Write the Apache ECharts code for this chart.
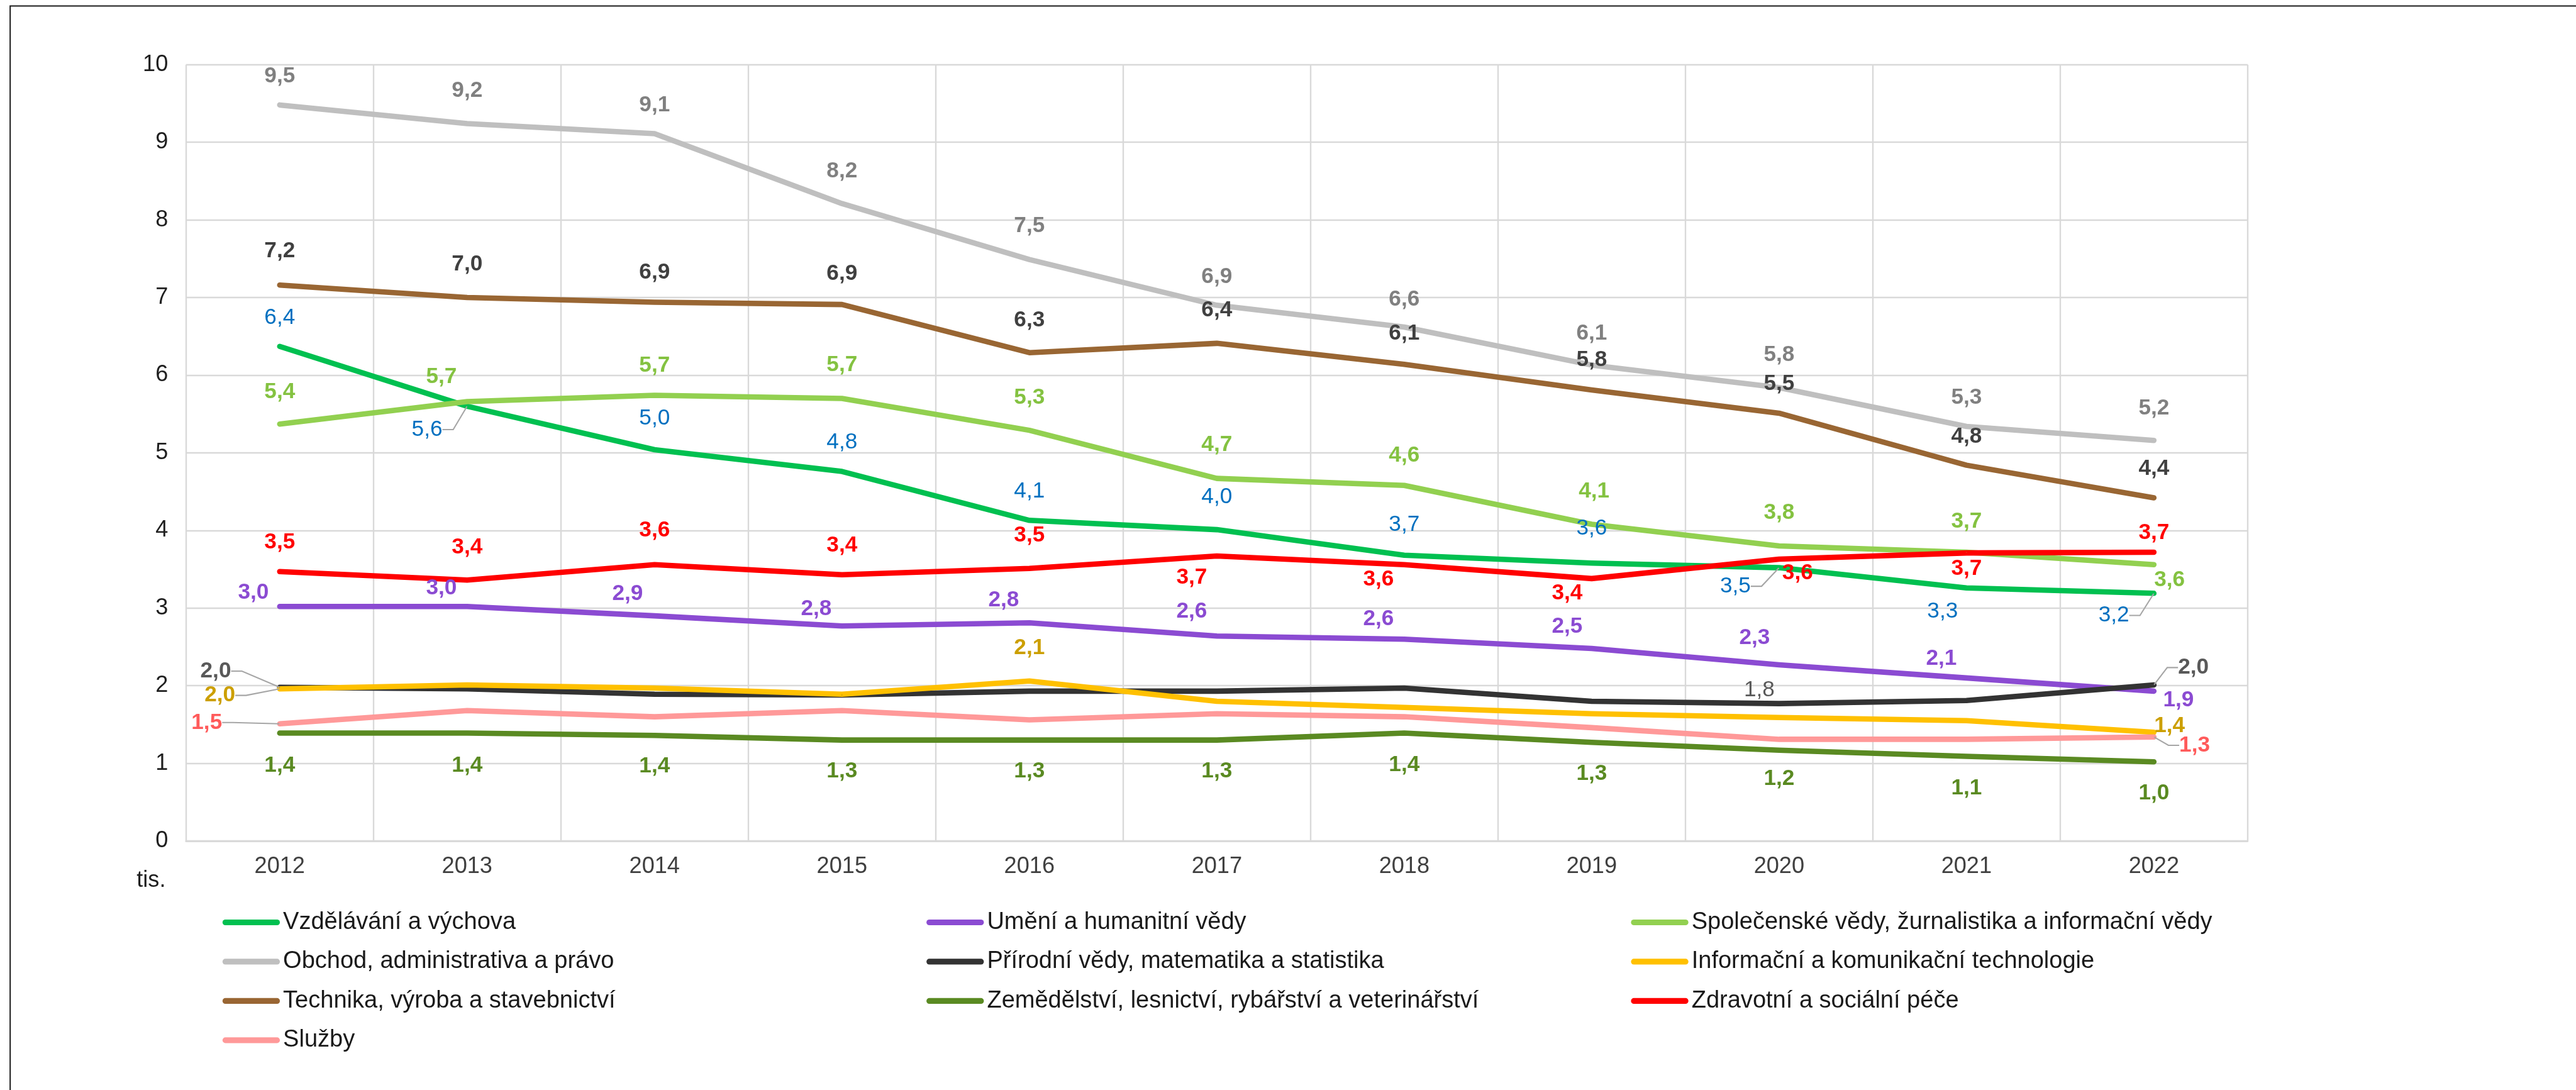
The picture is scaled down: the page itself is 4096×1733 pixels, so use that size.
<!DOCTYPE html>
<html><head><meta charset="utf-8">
<script src="https://cdn.jsdelivr.net/npm/echarts@6/dist/echarts.min.js"></script>
<style>html,body{margin:0;padding:0;background:#fff}#c{width:4096px;height:1733px}</style>
</head><body><div id="c"></div>
<script>
// ---------- data ----------
const years = ['2012','2013','2014','2015','2016','2017','2018','2019','2020','2021','2022'];
const seriesNames = [
  'Vzdělávání a výchova',
  'Umění a humanitní vědy',
  'Společenské vědy, žurnalistika a informační vědy',
  'Obchod, administrativa a právo',
  'Přírodní vědy, matematika a statistika',
  'Informační a komunikační technologie',
  'Technika, výroba a stavebnictví',
  'Zemědělství, lesnictví, rybářství a veterinářství',
  'Zdravotní a sociální péče',
  'Služby'
];
const vzdelavani   = [6.37, 5.60, 5.04, 4.76, 4.13, 4.01, 3.68, 3.58, 3.52, 3.26, 3.19];
const umeni        = [3.02, 3.02, 2.90, 2.77, 2.81, 2.64, 2.60, 2.48, 2.27, 2.10, 1.93];
const spolecenske  = [5.37, 5.66, 5.74, 5.70, 5.29, 4.67, 4.58, 4.08, 3.80, 3.72, 3.56];
const obchod       = [9.48, 9.24, 9.11, 8.21, 7.49, 6.90, 6.62, 6.13, 5.84, 5.34, 5.16];
const prirodni     = [1.98, 1.96, 1.89, 1.88, 1.93, 1.93, 1.97, 1.80, 1.77, 1.81, 2.01];
const informacni   = [1.96, 2.01, 1.97, 1.89, 2.06, 1.80, 1.72, 1.64, 1.59, 1.55, 1.40];
const technika     = [7.16, 7.00, 6.94, 6.91, 6.29, 6.41, 6.14, 5.81, 5.51, 4.84, 4.42];
const zemedelstvi  = [1.39, 1.39, 1.36, 1.30, 1.30, 1.30, 1.39, 1.27, 1.17, 1.09, 1.02];
const zdravotni    = [3.47, 3.36, 3.56, 3.43, 3.51, 3.67, 3.56, 3.38, 3.63, 3.71, 3.72];
const sluzby       = [1.51, 1.68, 1.60, 1.68, 1.56, 1.64, 1.60, 1.46, 1.31, 1.31, 1.34];
const yMin = 0, yMax = 10, yStep = 1;
const unitLabel = 'tis.';

// ---------- styling / layout (reference px, scaled by S) ----------
const S = 0.951;
const px = v => v * S;
const FONT = '"Liberation Sans", Arial, sans-serif';
const lineColors  = ['#00C050','#8B4BD2','#92D050','#BFBFBF','#333333','#FFC000','#996633','#5A8A22','#FF0000','#FF9999'];
const labelColors = ['#0070C0','#8B4BD2','#84C241','#808080','#595959','#CC9F00','#404040','#5A8A22','#FF0000','#FF5A5A'];
const labelWeights = ['normal','bold','bold','bold','bold','bold','bold','bold','bold','bold'];

// label offsets (label centre relative to point, reference px); null = no label
const T = (d) => [0, d];
const labelOffsets = [
  [T(-48),[-67,39],T(-52),T(-49),T(-48),T(-55),T(-51),T(-58),[-73,31],[-40,40],[-67,37]],
  [[-44,-23],[-43,-30],[-45,-37],[-43,-28],[-43,-38],[-42,-41],[-43,-33],[-41,-36],[-41,-45],[-42,-32],[41,15]],
  [T(-54),[-43,-41],T(-50),T(-56),T(-55),T(-56),T(-50),[4,-55],T(-55),T(-51),[26,26]],
  [T(-48),T(-55),T(-48),T(-54),T(-56),T(-47),T(-46),T(-53),T(-55),T(-48),T(-54)],
  [[-107,-27],null,null,null,null,null,null,null,[-33,-22],null,[66,-29]],
  [[-100,11],null,null,null,T(-55),null,null,null,null,null,[26,-11]],
  [T(-57),T(-55),T(-50),T(-51),T(-54),T(-55),T(-51),T(-50),T(-49),T(-48),T(-49)],
  [T(54),T(54),T(52),T(52),T(52),T(52),T(53),T(53),T(48),T(53),T(53)],
  [T(-49),T(-55),T(-57),T(-49),T(-55),[-42,36],[-43,25],[-41,25],[31,23],[0,26],T(-32)],
  [[-122,-2],null,null,null,null,null,null,null,null,null,[68,14]]
];
// which labels have leader lines
const leaders = [[1,8,10],[],[],[],[0,10],[0],[],[],[],[0,10]];
// regular-weight exceptions
const normalWeight = {4: [8]};

const allValues = [vzdelavani, umeni, spolecenske, obchod, prirodni, informacni, technika, zemedelstvi, zdravotni, sluzby];
const fmt = v => v.toFixed(1).replace('.', ',');

const series = allValues.map((vals, s) => ({
  name: seriesNames[s],
  type: 'line',
  data: vals.map((v, i) => ({
    value: v,
    label: {
      show: labelOffsets[s][i] != null,
      fontWeight: (normalWeight[s] && normalWeight[s].includes(i)) ? 'normal' : labelWeights[s]
    },
    labelLine: { show: leaders[s].includes(i) }
  })),
  symbol: 'circle',
  symbolSize: 1,
  showSymbol: true,
  lineStyle: { color: lineColors[s], width: px(9), cap: 'round', join: 'round' },
  itemStyle: { color: lineColors[s] },
  label: {
    position: 'inside',
    formatter: p => fmt(p.value),
    color: labelColors[s],
    fontSize: px(37),
    fontFamily: FONT,
    fontWeight: labelWeights[s]
  },
  labelLine: { show: false, length2: px(18), lineStyle: { color: '#A6A6A6', width: px(2.2) } },
  labelLayout: p => {
    const o = labelOffsets[s][p.dataIndex];
    return o ? { dx: px(o[0]), dy: px(o[1]) } : {};
  },
  emphasis: { disabled: true },
  animation: false,
  z: 2
}));

const pill = 'path://M5 0H95A5 5 0 0 1 95 10H5A5 5 0 0 1 5 0Z';
const legendCols = [[0,3,6,9],[1,4,7],[2,5,8]];
const legendX = [372, 1549, 2727];
const legendRow1 = 1542, legendRowStep = 65.7, legendFont = 40;

const option = {
  backgroundColor: '#ffffff',
  animation: false,
  textStyle: { fontFamily: FONT },
  grid: {
    left: px(311), right: 4096 - px(3758), top: px(108), bottom: 1733 - px(1406),
    containLabel: false
  },
  xAxis: {
    type: 'category',
    data: years,
    boundaryGap: true,
    axisLine: { show: true, lineStyle: { color: '#D9D9D9', width: px(3) } },
    axisTick: { show: false },
    splitLine: { show: true, interval: 0, lineStyle: { color: '#D9D9D9', width: px(2.5) } },
    axisLabel: { interval: 0, fontSize: px(38), color: '#404040', margin: px(24), fontFamily: FONT }
  },
  yAxis: {
    type: 'value',
    min: yMin, max: yMax, interval: yStep,
    axisLine: { show: false },
    axisTick: { show: false },
    splitLine: { show: true, lineStyle: { color: '#D9D9D9', width: px(2.5) } },
    axisLabel: { fontSize: px(38), color: '#1f1f1f', margin: px(30), fontFamily: FONT }
  },
  legend: legendCols.map((col, k) => ({
    orient: 'vertical',
    left: px(legendX[k]),
    top: px(legendRow1) - px(legendFont) / 2,
    padding: 0,
    data: col.map(i => seriesNames[i]),
    icon: pill,
    itemWidth: px(96),
    itemHeight: px(10),
    itemGap: px(legendRowStep) - px(legendFont),
    selectedMode: false,
    textStyle: { fontSize: px(legendFont), lineHeight: px(legendFont), color: '#1a1a1a', fontFamily: FONT }
  })),
  graphic: [
    {
      type: 'polyline',
      shape: { points: [[px(17), 1733], [px(17), px(10)], [4096, px(10)]] },
      style: { stroke: '#1a1a1a', lineWidth: 2, fill: null },
      silent: true
    },
    {
      type: 'text',
      x: px(277), y: px(1472),
      style: { text: unitLabel, align: 'right', verticalAlign: 'middle', fontSize: px(38), fontFamily: FONT, fill: '#1f1f1f' },
      silent: true
    }
  ],
  series: series
};

const chart = echarts.init(document.getElementById('c'), null, { renderer: 'canvas', width: 4096, height: 1733 });
chart.setOption(option);
</script>
</body></html>
